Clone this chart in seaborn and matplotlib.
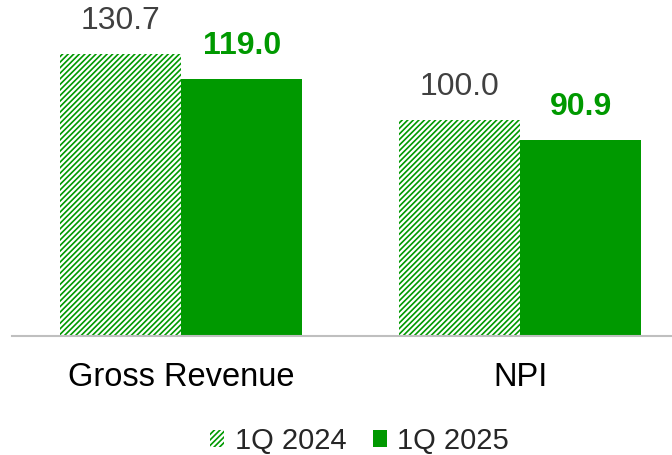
import pandas as pd
import seaborn as sns
import matplotlib.pyplot as plt
from matplotlib.patches import Patch

# datos
categorias = ["Gross Revenue", "NPI"]
periodos = ["1Q 2024", "1Q 2025"]
valores_2024 = [130.7, 100.0]
valores_2025 = [119.0, 90.9]

df = pd.DataFrame({
    "categoria": categorias * 2,
    "periodo": [periodos[0]] * 2 + [periodos[1]] * 2,
    "valor": valores_2024 + valores_2025,
})

verde = "#009900"
rayado = "//////"

sns.set_style("white")
plt.rcParams["font.family"] = ["Liberation Sans", "DejaVu Sans"]
plt.rcParams["hatch.linewidth"] = 1.2

fig = plt.figure(figsize=(6.72, 4.55), dpi=100)
ax = fig.add_axes([12 / 672, (455 - 336) / 455, 660 / 672, 336 / 455])

sns.barplot(
    data=df, x="categoria", y="valor", hue="periodo",
    palette=[verde, verde], saturation=1, width=0.714, ax=ax, legend=False,
)

# primera serie rayada
for p in ax.containers[0]:
    p.set_facecolor("white")
    p.set_edgecolor(verde)
    p.set_hatch(rayado)
    p.set_linewidth(0)
for p in ax.containers[1]:
    p.set_linewidth(0)

# etiquetas de valores
for bar, v in zip(ax.containers[0], valores_2024):
    ax.annotate(f"{v:.1f}", (bar.get_x() + bar.get_width() / 2, bar.get_height()),
                xytext=(0, 13), textcoords="offset points", ha="center", va="bottom",
                fontsize=23, color="#404040")
for bar, v in zip(ax.containers[1], valores_2025):
    ax.annotate(f"{v:.1f}", (bar.get_x() + bar.get_width() / 2, bar.get_height()),
                xytext=(0, 13), textcoords="offset points", ha="center", va="bottom",
                fontsize=23, color=verde, fontweight="bold")

ax.set_xlim(-0.5, 1 + 152 / 339)
ax.set_ylim(0, 155.7)
ax.set_xlabel("")
ax.set_ylabel("")
ax.set_yticks([])
for s in ["top", "left", "right"]:
    ax.spines[s].set_visible(False)
ax.spines["bottom"].set_color("#BFBFBF")
ax.spines["bottom"].set_linewidth(1.5)
ax.tick_params(axis="x", length=0, pad=19, labelsize=23.5, colors="black")

handles = [
    Patch(facecolor="white", edgecolor=verde, hatch=rayado, linewidth=0, label=periodos[0]),
    Patch(facecolor=verde, edgecolor=verde, linewidth=0, label=periodos[1]),
]
fig.legend(handles=handles, loc="center", bbox_to_anchor=(0.535, 14 / 455),
           ncol=2, frameon=False, fontsize=21, handlelength=0.5, handleheight=0.5,
           handletextpad=0.35, columnspacing=0.9, borderpad=0)

fig.savefig("out.png", dpi=100)
